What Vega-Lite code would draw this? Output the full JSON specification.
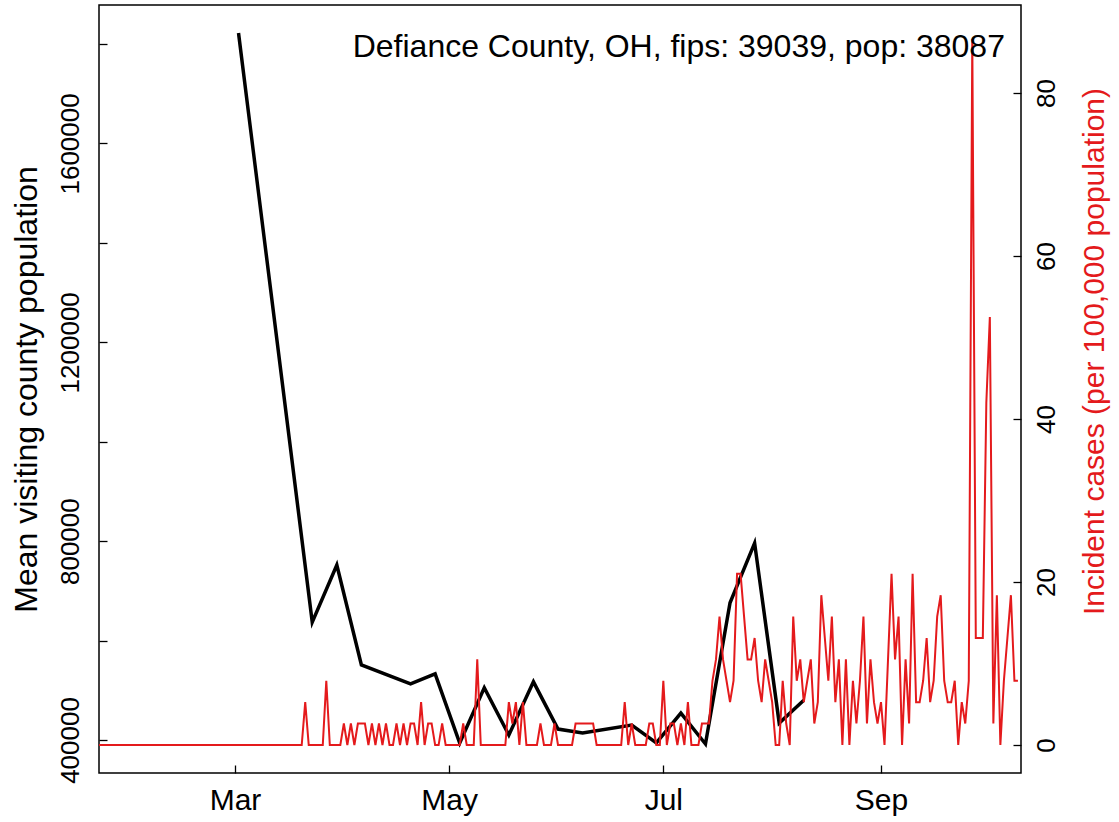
{
  "$schema": "https://vega.github.io/schema/vega-lite/v6.json",
  "width": 922,
  "height": 768,
  "autosize": "none",
  "padding": {"left": 99, "top": 5, "right": 98, "bottom": 49},
  "background": "white",
  "config": {
    "font": "Liberation Sans",
    "view": {"stroke": "black", "strokeWidth": 1.5},
    "axis": {"grid": false, "domain": false, "ticks": true, "tickColor": "black", "tickWidth": 1.3, "tickSize": -8, "labelFont": "Liberation Sans", "labelFontSize": 26, "labelColor": "black", "titleFont": "Liberation Sans", "titleFontSize": 32, "titleFontWeight": "normal", "titleColor": "black"}
  },
  "datasets": {
    "note": [
      {"date": "2020-10-06T07:12:00Z", "cases": 84.4, "label": "Defiance County, OH, fips: 39039, pop: 38087"}
    ],
    "black": [
      {"date": "2020-03-02", "visitors": 1822000},
      {"date": "2020-03-23", "visitors": 637000},
      {"date": "2020-03-30", "visitors": 752000},
      {"date": "2020-04-06", "visitors": 551000},
      {"date": "2020-04-20", "visitors": 513000},
      {"date": "2020-04-27", "visitors": 533000},
      {"date": "2020-05-04", "visitors": 394000},
      {"date": "2020-05-11", "visitors": 505000},
      {"date": "2020-05-18", "visitors": 410000},
      {"date": "2020-05-25", "visitors": 517000},
      {"date": "2020-06-01", "visitors": 422000},
      {"date": "2020-06-08", "visitors": 414000},
      {"date": "2020-06-22", "visitors": 430000},
      {"date": "2020-06-29", "visitors": 394000},
      {"date": "2020-07-06", "visitors": 454000},
      {"date": "2020-07-13", "visitors": 392000},
      {"date": "2020-07-20", "visitors": 676000},
      {"date": "2020-07-27", "visitors": 796000},
      {"date": "2020-08-03", "visitors": 434000},
      {"date": "2020-08-10", "visitors": 480000}
    ],
    "red": [
      {"date": "2020-01-22", "cases": 0},
      {"date": "2020-03-20", "cases": 0},
      {"date": "2020-03-21", "cases": 5.25},
      {"date": "2020-03-22", "cases": 0},
      {"date": "2020-03-26", "cases": 0},
      {"date": "2020-03-27", "cases": 7.88},
      {"date": "2020-03-28", "cases": 0},
      {"date": "2020-03-31", "cases": 0},
      {"date": "2020-04-01", "cases": 2.63},
      {"date": "2020-04-02", "cases": 0},
      {"date": "2020-04-03", "cases": 2.63},
      {"date": "2020-04-04", "cases": 0},
      {"date": "2020-04-05", "cases": 2.63},
      {"date": "2020-04-06", "cases": 2.63},
      {"date": "2020-04-07", "cases": 2.63},
      {"date": "2020-04-08", "cases": 0},
      {"date": "2020-04-09", "cases": 2.63},
      {"date": "2020-04-10", "cases": 0},
      {"date": "2020-04-11", "cases": 2.63},
      {"date": "2020-04-12", "cases": 0},
      {"date": "2020-04-13", "cases": 2.63},
      {"date": "2020-04-14", "cases": 0},
      {"date": "2020-04-15", "cases": 0},
      {"date": "2020-04-16", "cases": 2.63},
      {"date": "2020-04-17", "cases": 0},
      {"date": "2020-04-18", "cases": 2.63},
      {"date": "2020-04-19", "cases": 0},
      {"date": "2020-04-20", "cases": 2.63},
      {"date": "2020-04-21", "cases": 2.63},
      {"date": "2020-04-22", "cases": 0},
      {"date": "2020-04-23", "cases": 5.25},
      {"date": "2020-04-24", "cases": 0},
      {"date": "2020-04-25", "cases": 2.63},
      {"date": "2020-04-26", "cases": 2.63},
      {"date": "2020-04-27", "cases": 0},
      {"date": "2020-04-28", "cases": 0},
      {"date": "2020-04-29", "cases": 2.63},
      {"date": "2020-04-30", "cases": 0},
      {"date": "2020-05-04", "cases": 0},
      {"date": "2020-05-05", "cases": 2.63},
      {"date": "2020-05-06", "cases": 0},
      {"date": "2020-05-08", "cases": 0},
      {"date": "2020-05-09", "cases": 10.5},
      {"date": "2020-05-10", "cases": 0},
      {"date": "2020-05-17", "cases": 0},
      {"date": "2020-05-18", "cases": 5.25},
      {"date": "2020-05-19", "cases": 2.63},
      {"date": "2020-05-20", "cases": 5.25},
      {"date": "2020-05-21", "cases": 0},
      {"date": "2020-05-22", "cases": 5.25},
      {"date": "2020-05-23", "cases": 0},
      {"date": "2020-05-26", "cases": 0},
      {"date": "2020-05-27", "cases": 2.63},
      {"date": "2020-05-28", "cases": 0},
      {"date": "2020-05-30", "cases": 0},
      {"date": "2020-05-31", "cases": 2.63},
      {"date": "2020-06-01", "cases": 0},
      {"date": "2020-06-05", "cases": 0},
      {"date": "2020-06-06", "cases": 2.63},
      {"date": "2020-06-11", "cases": 2.63},
      {"date": "2020-06-12", "cases": 0},
      {"date": "2020-06-19", "cases": 0},
      {"date": "2020-06-20", "cases": 5.25},
      {"date": "2020-06-21", "cases": 0},
      {"date": "2020-06-22", "cases": 2.63},
      {"date": "2020-06-23", "cases": 0},
      {"date": "2020-06-26", "cases": 0},
      {"date": "2020-06-27", "cases": 2.63},
      {"date": "2020-06-28", "cases": 2.63},
      {"date": "2020-06-29", "cases": 0},
      {"date": "2020-06-30", "cases": 0},
      {"date": "2020-07-01", "cases": 7.88},
      {"date": "2020-07-02", "cases": 0},
      {"date": "2020-07-03", "cases": 2.63},
      {"date": "2020-07-04", "cases": 2.63},
      {"date": "2020-07-05", "cases": 0},
      {"date": "2020-07-06", "cases": 2.63},
      {"date": "2020-07-07", "cases": 0},
      {"date": "2020-07-08", "cases": 5.25},
      {"date": "2020-07-09", "cases": 0},
      {"date": "2020-07-11", "cases": 0},
      {"date": "2020-07-12", "cases": 2.63},
      {"date": "2020-07-13", "cases": 2.63},
      {"date": "2020-07-14", "cases": 2.63},
      {"date": "2020-07-15", "cases": 7.88},
      {"date": "2020-07-16", "cases": 10.5},
      {"date": "2020-07-17", "cases": 15.75},
      {"date": "2020-07-18", "cases": 10.5},
      {"date": "2020-07-19", "cases": 7.88},
      {"date": "2020-07-20", "cases": 5.25},
      {"date": "2020-07-21", "cases": 7.88},
      {"date": "2020-07-22", "cases": 21.0},
      {"date": "2020-07-23", "cases": 21.0},
      {"date": "2020-07-24", "cases": 15.75},
      {"date": "2020-07-25", "cases": 10.5},
      {"date": "2020-07-26", "cases": 10.5},
      {"date": "2020-07-27", "cases": 13.13},
      {"date": "2020-07-28", "cases": 7.88},
      {"date": "2020-07-29", "cases": 5.25},
      {"date": "2020-07-30", "cases": 10.5},
      {"date": "2020-07-31", "cases": 7.88},
      {"date": "2020-08-01", "cases": 5.25},
      {"date": "2020-08-02", "cases": 0},
      {"date": "2020-08-03", "cases": 0},
      {"date": "2020-08-04", "cases": 7.88},
      {"date": "2020-08-05", "cases": 2.63},
      {"date": "2020-08-06", "cases": 0},
      {"date": "2020-08-07", "cases": 15.75},
      {"date": "2020-08-08", "cases": 7.88},
      {"date": "2020-08-09", "cases": 10.5},
      {"date": "2020-08-10", "cases": 5.25},
      {"date": "2020-08-11", "cases": 7.88},
      {"date": "2020-08-12", "cases": 10.5},
      {"date": "2020-08-13", "cases": 2.63},
      {"date": "2020-08-14", "cases": 5.25},
      {"date": "2020-08-15", "cases": 18.38},
      {"date": "2020-08-16", "cases": 13.13},
      {"date": "2020-08-17", "cases": 7.88},
      {"date": "2020-08-18", "cases": 15.75},
      {"date": "2020-08-19", "cases": 5.25},
      {"date": "2020-08-20", "cases": 10.5},
      {"date": "2020-08-21", "cases": 0},
      {"date": "2020-08-22", "cases": 10.5},
      {"date": "2020-08-23", "cases": 0},
      {"date": "2020-08-24", "cases": 7.88},
      {"date": "2020-08-25", "cases": 2.63},
      {"date": "2020-08-26", "cases": 7.88},
      {"date": "2020-08-27", "cases": 15.75},
      {"date": "2020-08-28", "cases": 2.63},
      {"date": "2020-08-29", "cases": 10.5},
      {"date": "2020-08-30", "cases": 5.25},
      {"date": "2020-08-31", "cases": 2.63},
      {"date": "2020-09-01", "cases": 5.25},
      {"date": "2020-09-02", "cases": 0},
      {"date": "2020-09-03", "cases": 10.5},
      {"date": "2020-09-04", "cases": 21.0},
      {"date": "2020-09-05", "cases": 10.5},
      {"date": "2020-09-06", "cases": 15.75},
      {"date": "2020-09-07", "cases": 0},
      {"date": "2020-09-08", "cases": 10.5},
      {"date": "2020-09-09", "cases": 2.63},
      {"date": "2020-09-10", "cases": 21.0},
      {"date": "2020-09-11", "cases": 5.25},
      {"date": "2020-09-12", "cases": 5.25},
      {"date": "2020-09-13", "cases": 7.88},
      {"date": "2020-09-14", "cases": 13.13},
      {"date": "2020-09-15", "cases": 5.25},
      {"date": "2020-09-16", "cases": 7.88},
      {"date": "2020-09-17", "cases": 15.75},
      {"date": "2020-09-18", "cases": 18.38},
      {"date": "2020-09-19", "cases": 7.88},
      {"date": "2020-09-20", "cases": 5.25},
      {"date": "2020-09-21", "cases": 5.25},
      {"date": "2020-09-22", "cases": 7.88},
      {"date": "2020-09-23", "cases": 0},
      {"date": "2020-09-24", "cases": 5.25},
      {"date": "2020-09-25", "cases": 2.63},
      {"date": "2020-09-26", "cases": 7.88},
      {"date": "2020-09-27", "cases": 86.64},
      {"date": "2020-09-28", "cases": 13.13},
      {"date": "2020-09-29", "cases": 13.13},
      {"date": "2020-09-30", "cases": 13.13},
      {"date": "2020-10-01", "cases": 42.01},
      {"date": "2020-10-02", "cases": 52.51},
      {"date": "2020-10-03", "cases": 2.63},
      {"date": "2020-10-04", "cases": 18.38},
      {"date": "2020-10-05", "cases": 0},
      {"date": "2020-10-06", "cases": 7.88},
      {"date": "2020-10-07", "cases": 13.13},
      {"date": "2020-10-08", "cases": 18.38},
      {"date": "2020-10-09", "cases": 7.88},
      {"date": "2020-10-10", "cases": 7.88}
    ]
  },
  "layer": [
    {
      "data": {"name": "black"},
      "mark": {"type": "line", "color": "black", "strokeWidth": 3.5, "clip": true},
      "encoding": {
        "x": {
          "field": "date", "type": "temporal",
          "scale": {"type": "utc", "domain": [{"year": 2020, "month": 1, "date": 22, "hours": 6, "minutes": 15, "utc": true}, {"year": 2020, "month": 10, "date": 10, "hours": 21, "utc": true}]},
          "axis": {"title": null, "labelExpr": "utcFormat(datum.value, '%b')", "labelFontSize": 30, "labelPadding": 20, "values": [{"year": 2020, "month": 3, "date": 1, "utc": true}, {"year": 2020, "month": 5, "date": 1, "utc": true}, {"year": 2020, "month": 7, "date": 1, "utc": true}, {"year": 2020, "month": 9, "date": 1, "utc": true}]}
        },
        "y": {
          "field": "visitors", "type": "quantitative",
          "scale": {"domain": [333620, 1878450], "nice": false, "zero": false},
          "axis": {"orient": "left", "title": "Mean visiting county population", "values": [400000, 600000, 800000, 1000000, 1200000, 1400000, 1600000, 1800000], "format": "d", "labelExpr": "datum.value % 400000 === 0 ? datum.label : ''", "labelAngle": -90, "labelAlign": "center", "labelBaseline": "bottom", "labelPadding": 24, "titlePadding": 14}
        }
      }
    },
    {
      "data": {"name": "red"},
      "mark": {"type": "line", "color": "#E41A1C", "strokeWidth": 2, "clip": true},
      "encoding": {
        "x": {"field": "date", "type": "temporal"},
        "y": {
          "field": "cases", "type": "quantitative",
          "scale": {"domain": [-3.44, 90.8], "nice": false, "zero": false},
          "axis": {"orient": "right", "title": "Incident cases (per 100,000 population)", "titleColor": "#E41A1C", "titleFontSize": 30, "titleAngle": 270, "titleBaseline": "top", "titleY": 346, "values": [0, 20, 40, 60, 80], "labelAngle": -90, "labelAlign": "center", "labelBaseline": "top", "labelPadding": 20, "titlePadding": 20}
        }
      }
    },
    {
      "data": {"name": "note"},
      "mark": {"type": "text", "align": "right", "baseline": "alphabetic", "fontSize": 32, "font": "Liberation Sans", "color": "black"},
      "encoding": {
        "x": {"field": "date", "type": "temporal"},
        "y": {"field": "cases", "type": "quantitative", "scale": {"domain": [-3.44, 90.8], "nice": false, "zero": false}, "axis": null},
        "text": {"field": "label"}
      }
    }
  ],
  "resolve": {"scale": {"y": "independent"}, "axis": {"y": "independent"}}
}
